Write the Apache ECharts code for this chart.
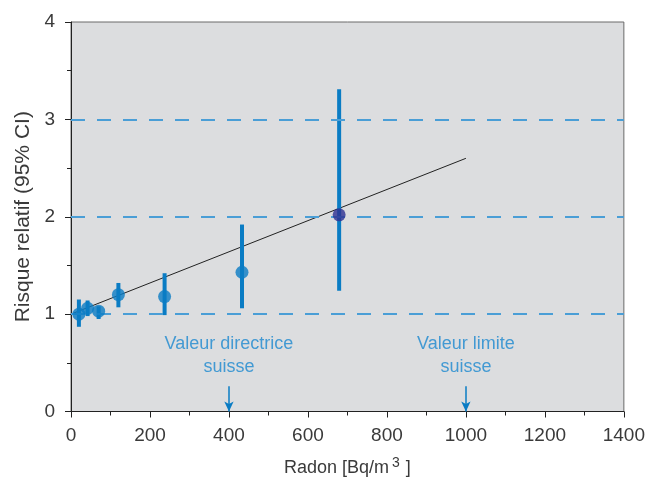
<!DOCTYPE html>
<html>
<head>
<meta charset="utf-8">
<script src="https://cdn.jsdelivr.net/npm/echarts@6/dist/echarts.min.js"></script>
<style>html,body{margin:0;padding:0;background:#fff}#c{width:648px;height:482px}</style>
</head>
<body>
<div id="c"></div>
<script>
// Data
var radon = [20, 42, 70, 120, 237, 433, 679];
var risk = [1.00, 1.06, 1.03, 1.20, 1.18, 1.43, 2.02];
var ciLow = [0.87, 0.98, 0.95, 1.07, 0.99, 1.06, 1.24];
var ciHigh = [1.15, 1.14, 1.08, 1.32, 1.42, 1.92, 3.31];
var fitX = [0, 1000];
var fitY = [1.0, 2.6];
var refLevels = [1, 2, 3];
var annotX = [400, 1000];
var annotText = ['Valeur directrice\nsuisse', 'Valeur limite\nsuisse'];
var xTicks = [0, 200, 400, 600, 800, 1000, 1200, 1400];
var yTicks = [0, 1, 2, 3, 4];

var FONT = 'Liberation Sans';
var blue = '#0a7cc4';
var annotBlue = '#1b88cf';
var txt = '#3a3a3a';

var chart = echarts.init(document.getElementById('c'));
var errData = radon.map(function (x, i) { return [x, ciLow[i], ciHigh[i]]; });
var ptData = radon.map(function (x, i) { return [x, risk[i]]; });
var fitData = fitX.map(function (x, i) { return [x, fitY[i]]; });
var arrowTop = 0.26;

chart.setOption({
  animation: false,
  grid: { left: 71, top: 22, width: 553, height: 391, show: true, backgroundColor: '#dcdddf', borderColor: '#6a6a6a', borderWidth: 1 },
  xAxis: {
    type: 'value', min: xTicks[0], max: xTicks[xTicks.length - 1], interval: 200,
    axisLine: { show: true, onZero: false, lineStyle: { color: '#222', width: 1 } },
    axisTick: { show: true, inside: false, length: 6, lineStyle: { color: '#222' } },
    minorTick: { show: true, splitNumber: 2, length: 4, lineStyle: { color: '#222' } },
    splitLine: { show: false },
    axisLabel: { fontFamily: FONT, fontSize: 19, color: txt, margin: 15, formatter: function (v) { return String(v); } },
    name: 'Radon [Bq/m{sup|3} ]', nameLocation: 'middle', nameGap: 45,
    nameTextStyle: { fontFamily: FONT, fontSize: 18, color: txt,
      rich: { sup: { fontFamily: FONT, fontSize: 14, color: txt, verticalAlign: 'bottom', padding: [0, 1, 9, 3] } } }
  },
  yAxis: {
    type: 'value', min: yTicks[0], max: yTicks[yTicks.length - 1], interval: 1,
    axisLine: { show: true, onZero: false, lineStyle: { color: '#222', width: 1 } },
    axisTick: { show: true, inside: false, length: 6, lineStyle: { color: '#222' } },
    minorTick: { show: true, splitNumber: 2, length: 4, lineStyle: { color: '#222' } },
    splitLine: { show: false },
    axisLabel: { fontFamily: FONT, fontSize: 19, color: txt, margin: 16 },
    name: 'Risque relatif (95% CI)', nameLocation: 'middle', nameGap: 37,
    nameTextStyle: { fontFamily: FONT, fontSize: 21, color: txt }
  },
  series: [
    {
      type: 'line', data: fitData, symbol: 'none', z: 3,
      lineStyle: { color: '#222', width: 1 },
      markLine: {
        silent: true, symbol: 'none', animation: false,
        label: { show: false },
        lineStyle: { color: '#4a9ed6', width: 2, type: [14, 12] },
        data: refLevels.map(function (v) { return { yAxis: v }; })
      }
    },
    {
      type: 'custom', data: errData, z: 4,
      renderItem: function (params, api) {
        var lo = api.coord([api.value(0), api.value(1)]);
        var hi = api.coord([api.value(0), api.value(2)]);
        return { type: 'line', shape: { x1: lo[0], y1: lo[1], x2: hi[0], y2: hi[1] },
          style: { stroke: blue, lineWidth: 4 } };
      },
      encode: { x: 0, y: [1, 2] }
    },
    {
      type: 'scatter', data: ptData, symbol: 'circle', symbolSize: 13, z: 5,
      itemStyle: { color: function (p) { return p.dataIndex === radon.length - 1 ? '#2e3192' : blue; } }
    },
    {
      type: 'scatter', data: annotX.map(function (x, i) { return { value: [x, 0.57], name: annotText[i] }; }),
      symbolSize: 0, z: 6,
      label: { show: true, position: 'inside', formatter: function (p) { return annotText[p.dataIndex]; },
        fontFamily: FONT, fontSize: 18, color: annotBlue, lineHeight: 23, align: 'center' },
      markLine: {
        silent: true, symbol: ['none', 'arrow'], symbolSize: [7, 10], animation: false,
        label: { show: false },
        lineStyle: { color: blue, width: 1.5, type: 'solid' },
        data: annotX.map(function (x) { return [{ coord: [x, arrowTop] }, { coord: [x, 0] }]; })
      }
    }
  ]
});
</script>
</body>
</html>
